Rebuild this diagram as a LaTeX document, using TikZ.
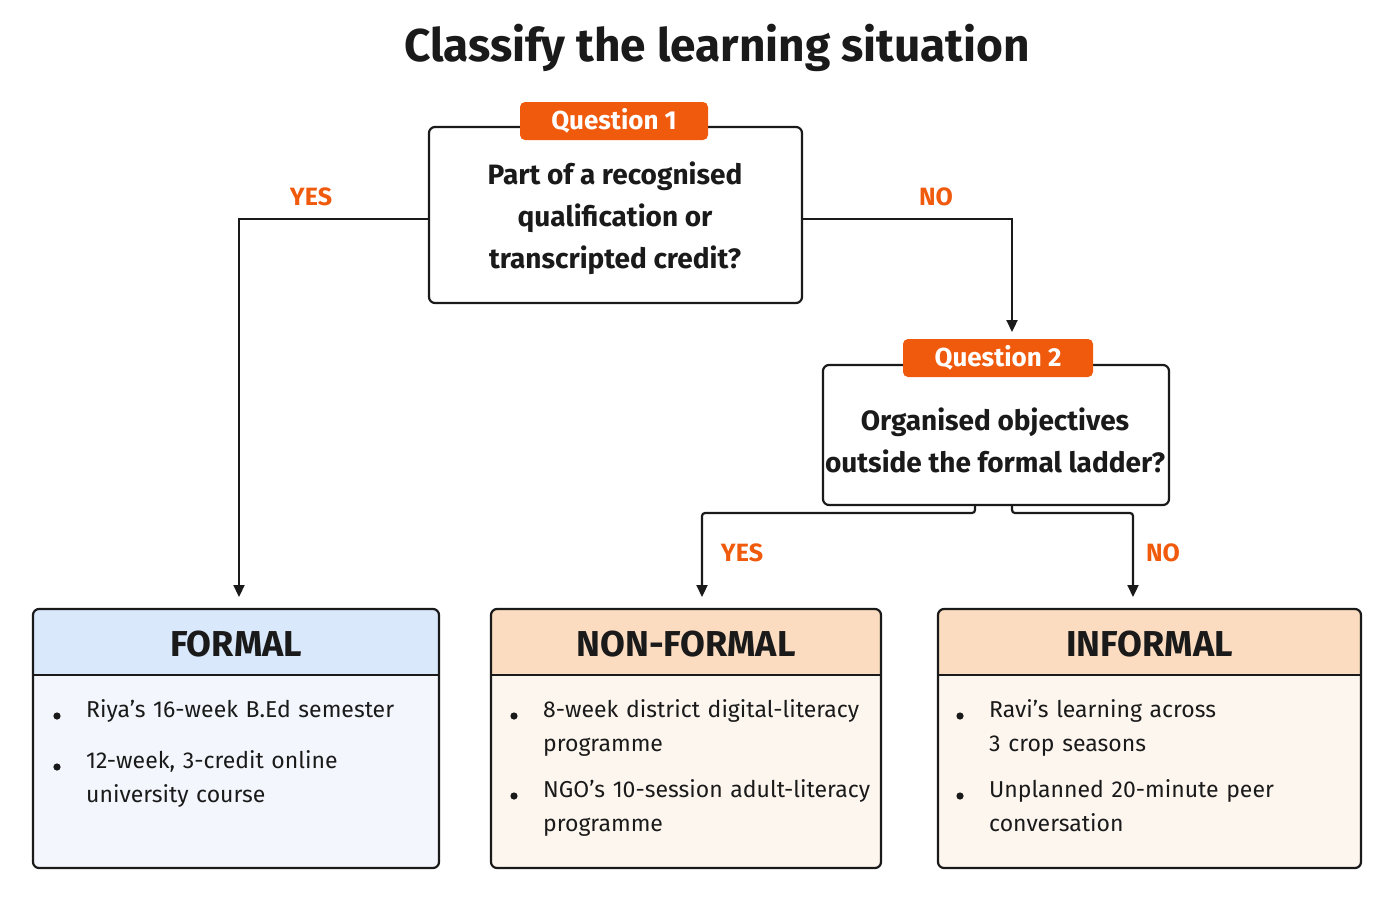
\documentclass[tikz,border=0pt]{standalone}
\usepackage{fontspec}
\setmainfont{Fira Sans}
\usetikzlibrary{arrows.meta}
\definecolor{org}{HTML}{F05A0C}
\definecolor{hb}{HTML}{D9E8FB}
\definecolor{bb}{HTML}{F3F7FD}
\definecolor{hp}{HTML}{FBDCC0}
\definecolor{bp}{HTML}{FDF6EF}
\definecolor{ink}{HTML}{1A1A1A}
\begin{document}
\begin{tikzpicture}[x=1pt,y=-1pt,
 box/.style={draw=ink,line width=2.2pt,rounded corners=6pt},
 tag/.style={fill=org,rounded corners=5pt,text=white,font=\fontsize{26}{28}\selectfont\bfseries,inner sep=0pt,minimum height=38pt},
 q/.style={font=\fontsize{28}{42}\selectfont\bfseries,align=center,text=ink},
 lab/.style={font=\fontsize{25}{28}\selectfont\bfseries,text=org},
 arr/.style={draw=ink,line width=2.2pt,-{Triangle[length=12pt,width=11pt]}},
 head/.style={font=\fontsize{36}{40}\selectfont\bfseries,text=ink},
 item/.style={font=\fontsize{23}{34}\selectfont,align=left,anchor=north west,text=ink,text width=330pt,inner sep=0pt}]
\useasboundingbox (0,0) rectangle (1400,900);
\node[font=\fontsize{46}{50}\selectfont\bfseries,text=ink] (title) at (717,48) {Classify the learning situation};
% Q1
\draw[box,fill=white] (429,127) rectangle (802,303);
\node (q1) at (615,215) {};
\node[tag,minimum width=188pt] (t1) at (614,121) {Question 1};
\node[q] (q1t) at (615,218) {Part of a recognised\\qualification or\\transcripted credit?};
% Q2
\draw[box,fill=white] (823,365) rectangle (1169,505);
\node[tag,minimum width=190pt] (t2) at (998,358) {Question 2};
\node[q] (q2t) at (995,440) {Organised objectives\\outside the formal ladder?};
% result boxes
\newcommand{\resbox}[6]{%
 \fill[#5,rounded corners=6pt] (#1,609) rectangle (#2,868);
 \fill[#6,rounded corners=6pt] (#1,609) rectangle (#2,675);
 \fill[#6] (#1,650) rectangle (#2,675);
 \draw[ink,line width=1.6pt] (#1,675) -- (#2,675);
 \draw[box] (#1,609) rectangle (#2,868);
 \node[head] (#4) at ({(#1+#2)/2},644) {#3};}
\resbox{33}{439}{FORMAL}{formal}{bb}{hb}
\resbox{491}{881}{NON-FORMAL}{nonformal}{bp}{hp}
\resbox{938}{1361}{INFORMAL}{informal}{bp}{hp}
\coordinate (fa) at (239,597); \coordinate (na) at (702,597); \coordinate (ia) at (1133,597);
\coordinate (q2top) at (1012,332);
% bullets
\newcommand{\blt}[3]{\fill[ink] (#1,#2) circle (3.6pt); \node[item] at (#1+29,#2-17) {#3};}
\blt{57}{716}{Riya's 16-week B.Ed semester}
\blt{57}{767}{12-week, 3-credit online\\university course}
\blt{514}{716}{8-week district digital-literacy\\programme}
\blt{514}{796}{NGO's 10-session adult-literacy\\programme}
\blt{960}{716}{Ravi's learning across\\3 crop seasons}
\blt{960}{796}{Unplanned 20-minute peer\\conversation}
% connectors
\draw[arr] (429,219) -- (239,219) -- (fa);
\draw[arr] (802,219) -- (1012,219) -- (q2top);
\draw[arr,rounded corners=3pt] (975,505) -- (975,513) -- (702,513) -- (na);
\draw[arr,rounded corners=3pt] (1012,505) -- (1012,513) -- (1133,513) -- (ia);
\node[lab] (y1) at (311,197) {YES};
\node[lab] (n1) at (936,197) {NO};
\node[lab] (y2) at (742,553) {YES};
\node[lab] (n2) at (1163,553) {NO};
\end{tikzpicture}
\end{document}
